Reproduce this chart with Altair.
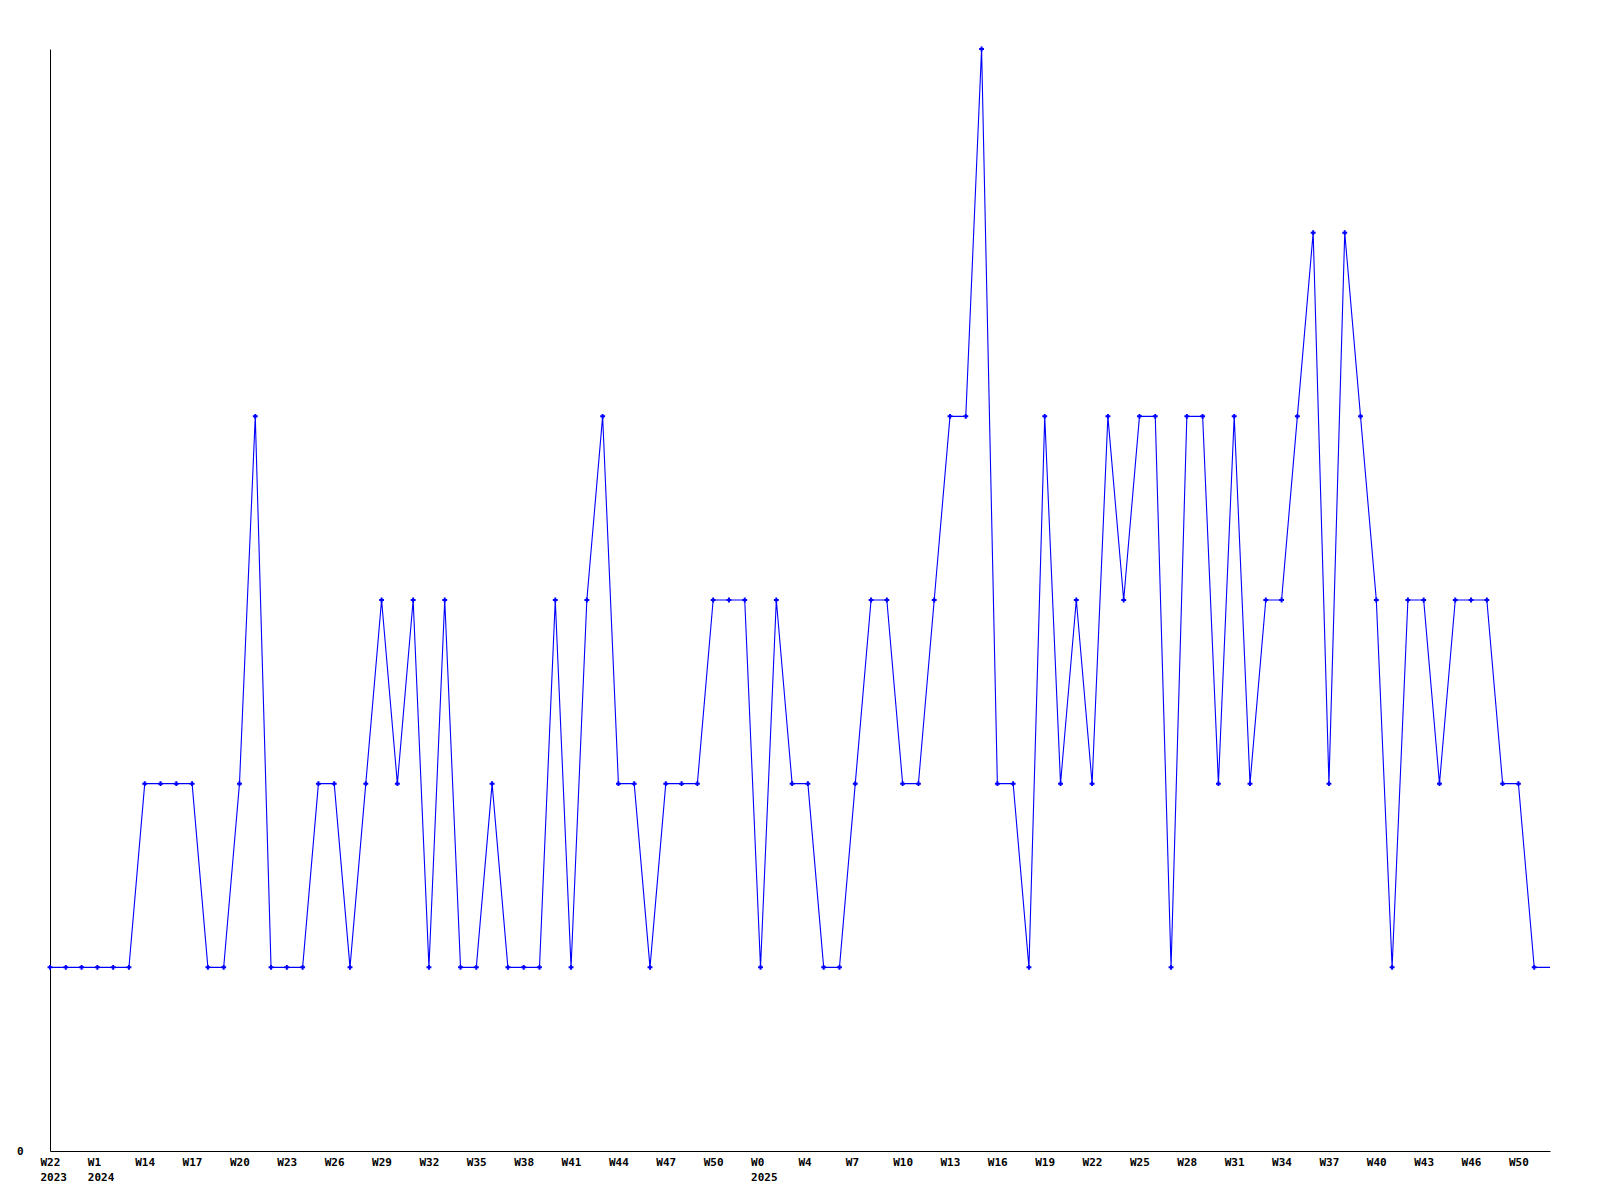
import altair as alt
import pandas as pd

values = [1, 1, 1, 1, 1, 1, 2, 2, 2, 2, 1, 1, 2, 4, 1, 1, 1, 2, 2, 1,
          2, 3, 2, 3, 1, 3, 1, 1, 2, 1, 1, 1, 3, 1, 3, 4, 2, 2, 1, 2,
          2, 2, 3, 3, 3, 1, 3, 2, 2, 1, 1, 2, 3, 3, 2, 2, 3, 4, 4, 6,
          2, 2, 1, 4, 2, 3, 2, 4, 3, 4, 4, 1, 4, 4, 2, 4, 2, 3, 3, 4,
          5, 2, 5, 4, 3, 1, 3, 3, 2, 3, 3, 3, 2, 2, 1, 1]

tick_weeks = ["W22", "W1", "W14", "W17", "W20", "W23", "W26", "W29", "W32", "W35",
              "W38", "W41", "W44", "W47", "W50", "W0", "W4", "W7", "W10", "W13",
              "W16", "W19", "W22", "W25", "W28", "W31", "W34", "W37", "W40", "W43",
              "W46", "W50"]
tick_years = {0: "2023", 1: "2024", 15: "2025"}
tick_step = 3

idx = list(range(len(values)))
df = pd.DataFrame({"i": idx, "v": values})
df_pts = df.iloc[:-1]

parts = []
for k, w in enumerate(tick_weeks):
    if k in tick_years:
        parts.append("['%s','%s']" % (w, tick_years[k]))
    else:
        parts.append("'%s'" % w)
label_expr = "[" + ",".join(parts) + "][round(datum.value/%d)]" % tick_step
tick_vals = [k * tick_step for k in range(len(tick_weeks))]

FONT = "DejaVu Sans Mono"

x = alt.X("i:Q", scale=alt.Scale(domain=[0, len(values) - 1], nice=False, zero=False),
          axis=alt.Axis(values=tick_vals, labelExpr=label_expr, title=None, grid=False,
                        ticks=False, domainColor="black", domainWidth=1,
                        labelAlign="left", labelOffset=-10, labelPadding=5,
                        labelBaseline="top", labelLineHeight=15,
                        labelFont=FONT, labelFontWeight="bold", labelFontSize=11,
                        labelColor="black", labelOverlap=False, labelFlush=False))
y = alt.Y("v:Q", scale=alt.Scale(domain=[0, 6], nice=False),
          axis=alt.Axis(values=[0], title=None, grid=False, ticks=False,
                        domainColor="black", domainWidth=1, labelPadding=27,
                        labelFont=FONT, labelFontWeight="bold", labelFontSize=11,
                        labelColor="black"))

line = alt.Chart(df).mark_line(color="#0000FF", strokeWidth=1.1).encode(x=x, y=y)
pts = alt.Chart(df_pts).mark_point(shape="cross", filled=True, color="#0000FF",
                                    size=24, opacity=1).encode(x=x, y=y)

chart = (line + pts).properties(
    width=1500, height=1102,
    autosize=alt.AutoSizeParams(type="none"),
    padding={"left": 42, "top": 41, "right": 20, "bottom": 50},
    background="white",
).configure_view(stroke=None)

chart.save("out.html", embed_options={"renderer": "svg", "actions": False})
